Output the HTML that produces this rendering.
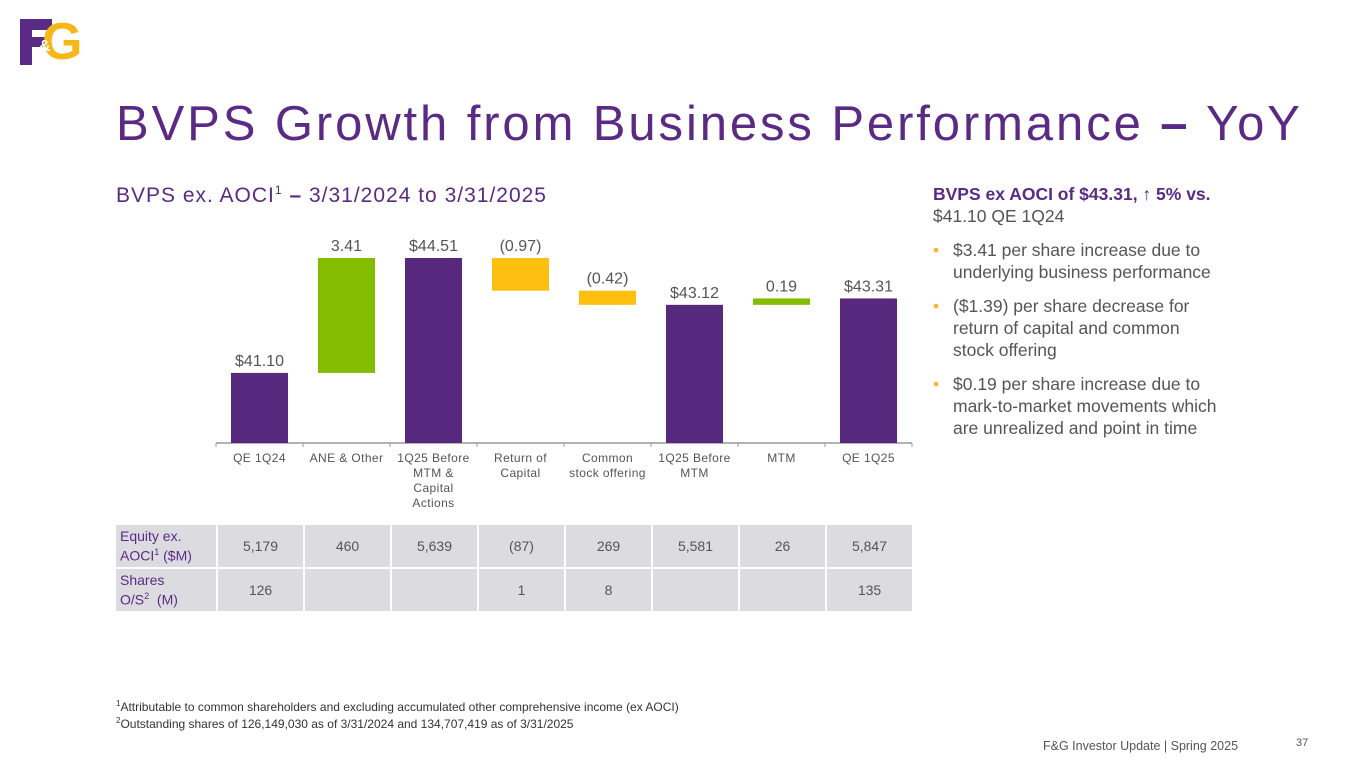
<!DOCTYPE html>
<html><head><meta charset="utf-8">
<style>
body{margin:0;width:1365px;height:768px;background:#fff;font-family:"Liberation Sans",sans-serif;position:relative;overflow:hidden}
.abs{position:absolute}
.title{left:116px;top:96px;font-size:49px;color:#5a2a84;letter-spacing:2.9px;white-space:nowrap}
.sub{left:116px;top:183px;font-size:21px;color:#5a2a84;letter-spacing:1.0px;white-space:nowrap}
.right{left:933px;top:183px;width:284px;font-size:17.5px;color:#555;line-height:22px}
.right b{color:#5a2a84;white-space:nowrap}
.right ul{margin:12px 0 0 0;padding:0;list-style:none}
.right li{position:relative;padding-left:20px;margin-bottom:12px}
.right li:before{content:"•";color:#f5b335;position:absolute;left:0}
table{position:absolute;left:116px;top:525px;border-collapse:separate;border-spacing:2px;margin:-2px}
td{background:#dcdce0;height:42px;width:85px;text-align:center;font-size:14px;color:#555;padding:0}
td.h{width:96px;text-align:left;color:#5a2a84;padding-left:4px;line-height:16px}
.foot{left:116px;top:697px;font-size:12px;color:#333;line-height:14px}
</style></head><body>
<div class="abs" style="left:20px;top:17px;width:70px;height:50px">
<div class="abs" style="left:0;top:2px;width:12px;height:46px;background:#5a2a84"></div>
<div class="abs" style="left:0;top:2px;width:32px;height:11px;background:#5a2a84"></div>
<div class="abs" style="left:0;top:20px;width:26px;height:10px;background:#5a2a84"></div>
<div class="abs" style="left:22px;top:1px;font:bold 52px/48px 'Liberation Sans',sans-serif;color:#f6b817">G</div>
<div class="abs" style="left:19px;top:22px;font:bold 16px/16px 'Liberation Sans',sans-serif;color:#fff">&amp;</div>
</div>
<div class="abs title">BVPS Growth from Business Performance <b>–</b> YoY</div>
<div class="abs sub">BVPS ex. AOCI<sup style="font-size:12px">1</sup> <b>–</b> 3/31/2024 to 3/31/2025</div>
<svg id="chart" class="abs" style="left:0;top:0" width="1365" height="768"></svg>
<table>
<tr><td class="h">Equity ex.<br>AOCI<sup style="font-size:9px">1</sup> ($M)</td><td>5,179</td><td>460</td><td>5,639</td><td>(87)</td><td>269</td><td>5,581</td><td>26</td><td>5,847</td></tr>
<tr><td class="h">Shares<br>O/S<sup style="font-size:9px">2</sup> &nbsp;(M)</td><td>126</td><td></td><td></td><td>1</td><td>8</td><td></td><td></td><td>135</td></tr>
</table>
<div class="abs right">
<b>BVPS ex AOCI of $43.31, ↑ 5% vs.</b><br>$41.10 QE 1Q24
<ul>
<li>$3.41 per share increase due to underlying business performance</li>
<li>($1.39) per share decrease for return of capital and common stock offering</li>
<li>$0.19 per share increase due to mark-to-market movements which are unrealized and point in time</li>
</ul></div>
<div class="abs foot"><sup style="font-size:8px">1</sup>Attributable to common shareholders and excluding accumulated other comprehensive income (ex AOCI)<br><sup style="font-size:8px">2</sup>Outstanding shares of 126,149,030 as of 3/31/2024 and 134,707,419 as of 3/31/2025</div>
<div class="abs" style="left:1043px;top:739px;font-size:12.5px;color:#555">F&amp;G Investor Update | Spring 2025</div>
<div class="abs" style="left:1296px;top:737px;font-size:11px;color:#555">37</div>
<script>
const categories=["QE 1Q24","ANE & Other","1Q25 Before|MTM &|Capital|Actions","Return of|Capital","Common|stock offering","1Q25 Before|MTM","MTM","QE 1Q25"];
const values=[41.10,3.41,44.51,-0.97,-0.42,43.12,0.19,43.31];
const kinds=["total","delta","total","delta","delta","total","delta","total"];
const labels=["$41.10","3.41","$44.51","(0.97)","(0.42)","$43.12","0.19","$43.31"];
const NS="http://www.w3.org/2000/svg",svg=document.getElementById('chart');
const yMin=39.02,pxPer=33.7,base=443,x0=216,step=87,bw=57;
const y=v=>base-(v-yMin)*pxPer;
const x=i=>x0+i*step+(step-bw)/2;
function mk(t,a){const e=document.createElementNS(NS,t);for(const k in a)e.setAttribute(k,a[k]);svg.appendChild(e);return e;}
let ax=mk('line',{x1:x0,x2:x0+step*8,y1:base,y2:base,stroke:'#999','stroke-width':1.5});


for(let i=0;i<=8;i++){mk('line',{x1:x0+i*step,x2:x0+i*step,y1:base,y2:base+4,stroke:'#999'});}
let run=0;
values.forEach((v,i)=>{
 let top,bot,col;
 if(kinds[i]==="total"){run=v;top=y(v);bot=base;col='#56297e';}
 else{const a=run,b=run+v;run=b;top=y(Math.max(a,b));bot=y(Math.min(a,b));col=v>=0?'#84bd00':'#fdc010';}
 const r=mk('rect',{x:x(i),y:top,width:bw,height:Math.max(bot-top,1),fill:col});
 
 
 const t=mk('text',{x:x(i)+bw/2,y:top-7,'text-anchor':'middle','font-size':16,fill:'#555'});
 t.textContent=labels[i];
 
 
 categories[i].split('|').forEach((ln,j)=>{
  const c=mk('text',{x:x0+i*step+step/2,y:base+19+j*15,'text-anchor':'middle','font-size':12,fill:'#555','letter-spacing':0.4});
  c.textContent=ln;
  
  
 });
});
</script>
</body></html>
